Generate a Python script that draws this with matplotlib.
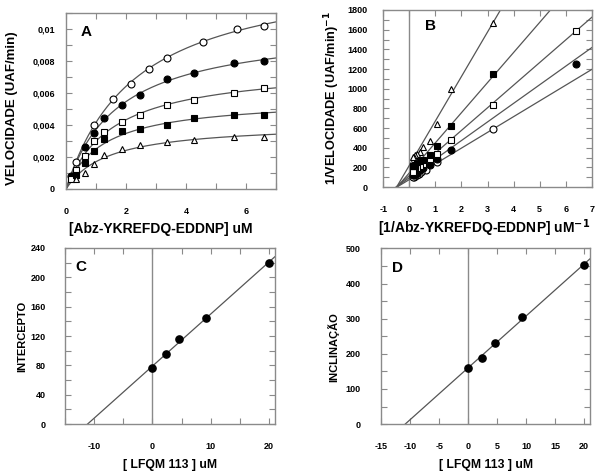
import numpy as np
import matplotlib
matplotlib.use("Agg")
import matplotlib.pyplot as plt
from matplotlib.ticker import MultipleLocator, FixedLocator

plt.rcParams["font.family"] = ["Liberation Sans", "DejaVu Sans"]
plt.rcParams["axes.unicode_minus"] = False

# panel A: substrate concentration (uM) and velocity (UAF/min) per inhibitor level
x_i0 = [0.3125, 0.9375, 1.55, 2.15, 2.75, 3.35, 4.55, 5.7, 6.6]
v_i0 = [0.0017, 0.0040, 0.0056, 0.00655, 0.0075, 0.0082, 0.0092, 0.0100, 0.0102]
x_i1 = [0.156, 0.625, 0.9375, 1.25, 1.85, 2.45, 3.35, 4.27, 5.6, 6.6]
v_i1 = [0.0008, 0.00262, 0.0035, 0.00445, 0.00525, 0.00588, 0.00685, 0.00723, 0.00785, 0.0080]
x_i2 = [0.156, 0.3125, 0.625, 0.9375, 1.25, 1.85, 2.45, 3.35, 4.27, 5.6, 6.6]
v_i2 = [0.00063, 0.0012, 0.00208, 0.003, 0.00355, 0.0042, 0.00465, 0.00525, 0.00557, 0.00602, 0.00632]
x_i3 = [0.3125, 0.625, 0.9375, 1.25, 1.85, 2.45, 3.35, 4.27, 5.6, 6.6]
v_i3 = [0.00087, 0.00162, 0.0024, 0.0031, 0.0036, 0.00376, 0.004, 0.00442, 0.00462, 0.00462]
x_i4 = [0.3125, 0.625, 0.9375, 1.25, 1.85, 2.45, 3.35, 4.27, 5.6, 6.6]
v_i4 = [0.0006, 0.001, 0.00155, 0.00215, 0.00247, 0.00277, 0.00295, 0.00307, 0.00323, 0.00325]

# panels C and D: inhibitor concentration, Lineweaver-Burk intercepts and slopes
inhibitor = [0, 2.3, 4.6, 9.2, 20]
intercepts = [76, 95, 116, 144, 220]
slopes = [160, 189, 230, 306, 452]

series = [
    (x_i0, v_i0, "o", "white"),
    (x_i1, v_i1, "o", "black"),
    (x_i2, v_i2, "s", "white"),
    (x_i3, v_i3, "s", "black"),
    (x_i4, v_i4, "^", "white"),
]

frame = "#8a8a8a"
line_col = "#555555"


def mm_fit(x, v):
    # grid search on Km, closed form Vmax
    x = np.asarray(x)
    v = np.asarray(v)
    best = None
    for km in np.linspace(0.3, 6, 571):
        f = x / (km + x)
        vmax = np.sum(f * v) / np.sum(f * f)
        sse = np.sum((vmax * f - v) ** 2)
        if best is None or sse < best[0]:
            best = (sse, vmax, km)
    return best[1], best[2]


def style(ax, ypad):
    for s in ax.spines.values():
        s.set_color(frame)
        s.set_linewidth(1)
    ax.tick_params(which="both", direction="in", top=True, right=True,
                   color=frame, width=0.8, length=4)
    ax.tick_params(axis="x", which="both", pad=13)
    ax.tick_params(axis="y", which="both", pad=ypad)
    for lab in ax.get_xticklabels() + ax.get_yticklabels():
        lab.set_fontsize(6.5)
        lab.set_fontweight("bold")


def labels(ax, xlab, ylab, xpos, ypos, xsize, ysize):
    ax.set_xlabel(xlab, fontsize=xsize, fontweight="bold", va="center")
    ax.set_ylabel(ylab, fontsize=ysize, fontweight="bold", va="center")
    ax.xaxis.set_label_coords(*xpos)
    ax.yaxis.set_label_coords(*ypos)


def main():
    fig = plt.figure(figsize=(5.96, 4.76), dpi=100)
    ax_a = fig.add_axes([0.111, 0.603, 0.352, 0.370])
    ax_b = fig.add_axes([0.643, 0.607, 0.350, 0.372])
    ax_c = fig.add_axes([0.109, 0.109, 0.352, 0.370])
    ax_d = fig.add_axes([0.640, 0.109, 0.350, 0.369])

    # A: Michaelis-Menten
    xs = np.linspace(0, 7, 200)
    for x, v, m, fc in series:
        vmax, km = mm_fit(x, v)
        ax_a.plot(xs, vmax * xs / (km + xs), color=line_col, lw=0.9, zorder=2)
        ax_a.plot(x, v, m, ms=5, mfc=fc, mec="black", mew=0.8, ls="none", zorder=3)
    ax_a.set_xlim(0, 7)
    ax_a.set_ylim(0, 0.011)
    ax_a.xaxis.set_major_locator(FixedLocator([0, 2, 4, 6]))
    ax_a.xaxis.set_minor_locator(MultipleLocator(1))
    ax_a.yaxis.set_major_locator(FixedLocator([0, 0.002, 0.004, 0.006, 0.008, 0.01]))
    ax_a.yaxis.set_minor_locator(MultipleLocator(0.001))
    ax_a.set_yticklabels(["0", "0,002", "0,004", "0,006", "0,008", "0,01"])
    labels(ax_a, "[Abz-YKREFDQ-EDDNP] uM", "VELOCIDADE (UAF/min)",
           (0.45, -0.227), (-0.257, 0.46), 10, 9.5)
    ax_a.text(0.07, 0.93, "A", transform=ax_a.transAxes, fontsize=11,
              fontweight="bold", va="top")
    style(ax_a, 8)

    # B: Lineweaver-Burk
    for (x, v, m, fc), a, b in zip(series, slopes, intercepts):
        x0 = -b / a
        xl = np.array([x0, 7])
        ax_b.plot(xl, a * xl + b, color=line_col, lw=0.9, zorder=2)
        ax_b.plot(1 / np.asarray(x), 1 / np.asarray(v), m, ms=5, mfc=fc,
                  mec="black", mew=0.8, ls="none", zorder=3)
    ax_b.axvline(0, color=frame, lw=1, zorder=1)
    ax_b.set_xlim(-1, 7)
    ax_b.set_ylim(0, 1800)
    ax_b.xaxis.set_major_locator(MultipleLocator(1))
    ax_b.yaxis.set_major_locator(MultipleLocator(200))
    ax_b.yaxis.set_minor_locator(MultipleLocator(100))
    labels(ax_b, r"[1/Abz-YKREFDQ-EDDNP] uM$^{\mathbf{-1}}$",
           r"1/VELOCIDADE (UAF/min)$^{\mathbf{-1}}$",
           (0.485, -0.23), (-0.244, 0.5), 10, 9.2)
    ax_b.text(0.2, 0.95, "B", transform=ax_b.transAxes, fontsize=11,
              fontweight="bold", va="top")
    style(ax_b, 11)

    # C and D: secondary plots
    for ax, yv, ylab, letter, ymax, ymaj, ymin, xmaj, ycoords, ypad in [
        (ax_c, intercepts, "INTERCEPTO", "C", 240, 40, 20, 10, (-0.205, 0.5), 14),
        (ax_d, slopes, "INCLINAÇÃO", "D", 500, 100, 50, 5, (-0.232, 0.44), 15),
    ]:
        k, c = np.polyfit(inhibitor, yv, 1)
        xl = np.array([-c / k, 21])
        ax.plot(xl, k * xl + c, color=line_col, lw=0.9, zorder=2)
        ax.plot(inhibitor, yv, "o", ms=5.2, color="black", zorder=3)
        ax.axvline(0, color=frame, lw=1, zorder=1)
        ax.set_xlim(-15, 21)
        ax.set_ylim(0, ymax)
        ax.xaxis.set_major_locator(MultipleLocator(xmaj))
        ax.xaxis.set_minor_locator(MultipleLocator(5))
        ax.yaxis.set_major_locator(MultipleLocator(ymaj))
        ax.yaxis.set_minor_locator(MultipleLocator(ymin))
        labels(ax, "[ LFQM 113 ] uM", ylab, (0.5, -0.23), ycoords, 8.8, 8)
        ax.text(0.05, 0.93, letter, transform=ax.transAxes, fontsize=11,
                fontweight="bold", va="top")
        style(ax, ypad)

    fig.savefig("out.png", dpi=100)


if __name__ == "__main__":
    main()
